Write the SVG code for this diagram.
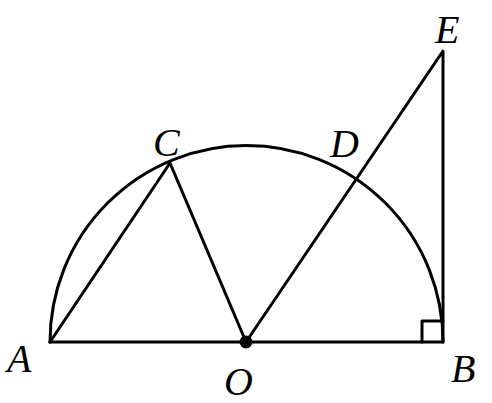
<svg xmlns="http://www.w3.org/2000/svg" width="492" height="403" viewBox="0 0 492 403">
<style>
.l{fill:none;stroke:#000;stroke-width:3;stroke-linecap:round;stroke-linejoin:round}
.t{font-family:"Liberation Serif",serif;font-style:italic;font-size:40px;fill:#000}
</style>
<rect width="492" height="403" fill="#fff"/>
<g id="semicircle"><path class="l" d="M50,342 A196.5,196.5 0 0 1 443,342"/></g>
<g id="connectors">
<path class="l" d="M50,342 H443 V51 L246,342"/>
<path class="l" d="M50,342 L170,163 L246,342"/>
<path class="l" d="M422,342 V321 H443"/>
</g>
<g id="O"><circle cx="246" cy="342" r="6.5" fill="#000"/><text class="t" x="224" y="395">O</text></g>
<g id="A"><text class="t" x="7" y="372">A</text></g>
<g id="B"><text class="t" x="451" y="382">B</text></g>
<g id="C"><text class="t" x="153" y="156">C</text></g>
<g id="D"><text class="t" x="330" y="157">D</text></g>
<g id="E"><text class="t" x="435" y="43">E</text></g>
</svg>
